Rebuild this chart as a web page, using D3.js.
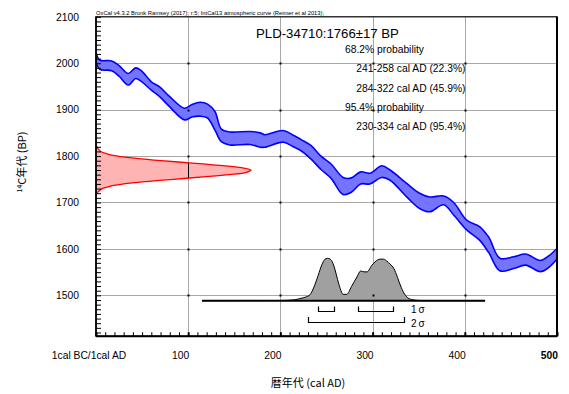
<!DOCTYPE html>
<html><head><meta charset="utf-8">
<script src="https://cdn.jsdelivr.net/npm/d3@7"></script>
<style>
html,body{margin:0;padding:0;background:#fff;}
svg{display:block;font-family:"Liberation Sans",Arial,"Noto Sans CJK JP",sans-serif;}
</style></head><body>
<svg id="chart" width="569" height="394"></svg>
<script>
// ---- data ----
const calYears = [0,4,17,25,35,43,49,60,69,80,96,104,113,121,129,136,145,167,178,183,203,214,222,233,244,255,268,277,287,297,310,319,337,351,362,377,388,402,416,426,438,453,466,482,491,500];
const curveUpper = [2024,2007,2005,1995,1978,1990,1984,1960,1949,1928,1903,1911,1916,1912,1896,1858,1852,1853,1850,1846,1855,1845,1836,1823,1800,1783,1754,1753,1766,1763,1779,1770,1741,1720,1712,1714,1700,1662,1648,1625,1580,1583,1589,1575,1585,1601];
const curveLower = [2005,1987,1984,1972,1953,1967,1961,1942,1928,1906,1878,1884,1886,1882,1856,1831,1824,1825,1819,1819,1830,1820,1812,1794,1771,1752,1717,1722,1740,1740,1754,1748,1712,1687,1680,1695,1673,1641,1619,1592,1553,1558,1565,1551,1560,1578];

const measBP = [1825,1820,1815,1810,1805,1800,1795,1790,1785,1780,1775,1770,1765,1760,1755,1750,1745,1740,1735,1730,1725,1720,1715];
const measProb = [0,0.005,0.015,0.03,0.07,0.14,0.26,0.42,0.62,0.80,0.94,1.0,0.97,0.86,0.69,0.50,0.32,0.18,0.09,0.04,0.02,0.005,0];

const postYears = [115,200,215,221,228,232,236,241,245,248,251,254,257,259,262,265,268,272,277,283,287,291,294,299,304,308,312,315,319,323,327,330,334,337,342,348,360,422];
const postProb  = [0,0.005,0.02,0.05,0.09,0.14,0.3,0.6,0.85,0.97,1.0,0.98,0.88,0.75,0.5,0.28,0.15,0.15,0.33,0.56,0.7,0.68,0.68,0.83,0.94,0.98,0.98,0.94,0.86,0.76,0.55,0.37,0.18,0.09,0.03,0.01,0,0];

const sigma1Ranges = [[241,258],[284,322]];
const sigma2Ranges = [[230,334]];

const xTickLabels = ["1cal BC/1cal AD","100","200","300","400","500"];
const xTickValues = [0,100,200,300,400,500];
const yTickValues = [1500,1600,1700,1800,1900,2000,2100];

const headerText = "OxCal v4.3.2 Bronk Ramsey (2017); r:5; IntCal13 atmospheric curve (Reimer et al 2013);";
const titleText = "PLD-34710:1766\u00B117 BP";
const probLines = [
  {t:"68.2% probability", kind:"head"},
  {t:"241-258 cal AD (22.3%)", kind:"range"},
  {t:"284-322 cal AD (45.9%)", kind:"range"},
  {t:"95.4% probability", kind:"head"},
  {t:"230-334 cal AD (95.4%)", kind:"range"}
];

// ---- layout ----
const svg = d3.select("#chart");
const L = 96, R = 557, T = 16.8, B = 336.2;
const x = d3.scaleLinear().domain([0,500]).range([L,R]);
const y = d3.scaleLinear().domain([1412,2100]).range([B,T]);

svg.append("clipPath").attr("id","plotclip").append("rect")
  .attr("x",L).attr("y",T).attr("width",R-L).attr("height",B-T);

// gridlines
const grid = svg.append("g").attr("stroke","#a8a8a8").attr("stroke-width",1);
[100,200,300,400].forEach(v=>grid.append("line").attr("x1",Math.round(x(v))+0.5).attr("x2",Math.round(x(v))+0.5).attr("y1",T).attr("y2",B));
[1500,1600,1700,1800,1900,2000].forEach(v=>grid.append("line").attr("y1",Math.round(y(v))+0.5).attr("y2",Math.round(y(v))+0.5).attr("x1",L).attr("x2",R));

// measurement (red) distribution
const measData = measBP.map((b,i)=>({bp:b,p:measProb[i]}));
const xr = d3.scaleLinear().domain([0,1]).range([L,251]);
const redArea = d3.area().y(d=>y(d.bp)).x0(L).x1(d=>xr(d.p)).curve(d3.curveCatmullRom);
svg.append("path").datum(measData).attr("d",redArea).attr("fill","#ffb4b4");
svg.append("clipPath").attr("id","redclip").append("path").datum(measData).attr("d",redArea);
svg.append("line").attr("clip-path","url(#redclip)")
  .attr("x1",Math.round(x(100))+0.5).attr("x2",Math.round(x(100))+0.5).attr("y1",T).attr("y2",B)
  .attr("stroke","#000").attr("stroke-width",1);
const redLine = d3.line().y(d=>y(d.bp)).x(d=>xr(d.p)).curve(d3.curveCatmullRom);
svg.append("path").datum(measData).attr("d",redLine).attr("fill","none").attr("stroke","#ff0000").attr("stroke-width",1.3);

// calibration curve band
const curveData = calYears.map((c,i)=>({c:c,u:curveUpper[i],l:curveLower[i]}));
const band = d3.area().x(d=>x(d.c)).y0(d=>y(d.l)).y1(d=>y(d.u)).curve(d3.curveCatmullRom);
const g2 = svg.append("g").attr("clip-path","url(#plotclip)");
g2.append("path").datum(curveData).attr("d",band).attr("fill","#7474ff");
g2.append("path").datum(curveData).attr("d",d3.line().x(d=>x(d.c)).y(d=>y(d.u)).curve(d3.curveCatmullRom))
  .attr("fill","none").attr("stroke","#0000ff").attr("stroke-width",1.6);
g2.append("path").datum(curveData).attr("d",d3.line().x(d=>x(d.c)).y(d=>y(d.l)).curve(d3.curveCatmullRom))
  .attr("fill","none").attr("stroke","#0000ff").attr("stroke-width",1.6);

// posterior (gray) distribution
const base = 300.7;
const hy = d3.scaleLinear().domain([0,1]).range([base,258.3]);
const postData = postYears.map((c,i)=>({c:c,p:postProb[i]}));
svg.append("path").datum(postData)
  .attr("d",d3.area().x(d=>x(d.c)).y0(base).y1(d=>hy(d.p)).curve(d3.curveMonotoneX))
  .attr("fill","#a0a0a0");
svg.append("path").datum(postData)
  .attr("d",d3.line().x(d=>x(d.c)).y(d=>hy(d.p)).curve(d3.curveMonotoneX))
  .attr("fill","none").attr("stroke","#000").attr("stroke-width",1);
svg.append("line").attr("x1",x(postYears[0])).attr("x2",x(postYears[postYears.length-1]))
  .attr("y1",base).attr("y2",base).attr("stroke","#000").attr("stroke-width",2);

// sigma brackets
function bracket(r, yTop, yBot){
  const a = Math.round(x(r[0]))+0.5, b = Math.round(x(r[1]))+0.5;
  return `M${a},${yTop}V${yBot}H${b}V${yTop}`;
}
sigma1Ranges.forEach(r=>svg.append("path").attr("d",bracket(r,306.5,311.5)).attr("fill","none").attr("stroke","#000").attr("stroke-width",1.2));
sigma2Ranges.forEach(r=>svg.append("path").attr("d",bracket(r,317,322.5)).attr("fill","none").attr("stroke","#000").attr("stroke-width",1.2));
svg.append("text").attr("x",411).attr("y",313).attr("font-size",10).text("1\u2009\u03C3");
svg.append("text").attr("x",411).attr("y",327).attr("font-size",10).text("2\u2009\u03C3");

// intersection dots
[100,200,300,400].forEach(cx=>[1500,1600,1700,1800,1900,2000].forEach(by=>{
  svg.append("rect").attr("x",Math.round(x(cx))-0.5).attr("y",Math.round(y(by))-0.5).attr("width",2).attr("height",2).attr("fill","#000");
}));

// axes
const minorY = d3.range(1420,2101,10);
svg.append("g").attr("transform",`translate(${L},0)`)
  .call(d3.axisLeft(y).tickValues(minorY).tickSize(-5).tickFormat(""))
  .call(g=>{g.select(".domain").remove(); g.selectAll("line").attr("stroke","#000").attr("stroke-width",1);});
const minorX = d3.range(0,501,10);
svg.append("g").attr("transform",`translate(0,${B})`)
  .call(d3.axisBottom(x).tickValues(minorX).tickSize(-4).tickFormat(""))
  .call(g=>{g.select(".domain").remove(); g.selectAll("line").attr("stroke","#000").attr("stroke-width",d=>d%100===0?2:1);});

// frame
svg.append("rect").attr("x",L).attr("y",T).attr("width",R-L).attr("height",B-T)
  .attr("fill","none").attr("stroke","#000").attr("stroke-width",1.2);
svg.append("line").attr("x1",L).attr("x2",L).attr("y1",T).attr("y2",B).attr("stroke","#000").attr("stroke-width",1.6);
svg.append("line").attr("x1",L).attr("x2",R).attr("y1",B).attr("y2",B).attr("stroke","#000").attr("stroke-width",2);
svg.append("line").attr("x1",R).attr("x2",R).attr("y1",T).attr("y2",B).attr("stroke","#000").attr("stroke-width",2);

// y tick labels
yTickValues.forEach(v=>svg.append("text").attr("x",79).attr("y",y(v)+3.7).attr("text-anchor","end")
  .attr("font-size",10.3).attr("fill","#000").text(v));
// x tick labels
xTickValues.forEach((v,i)=>{
  const t = svg.append("text").attr("y",358.5).attr("font-size",10.3).attr("fill","#000").text(xTickLabels[i]);
  if(i===0){ t.attr("x",89).attr("text-anchor","middle"); }
  else { t.attr("x",x(v)+1).attr("text-anchor","end"); }
  if(i===xTickValues.length-1) t.attr("font-weight","bold");
});

// axis titles
svg.append("text").attr("x",308).attr("y",387).attr("text-anchor","middle").attr("font-size",11)
  .attr("font-family","'Noto Sans CJK JP',sans-serif").text("暦年代 (cal AD)");
const yt = svg.append("text").attr("transform","translate(26,162) rotate(-90)").attr("text-anchor","middle")
  .attr("font-size",11).attr("font-family","'Noto Sans CJK JP',sans-serif");
yt.append("tspan").attr("font-size",7).attr("dy",-4).text("14");
yt.append("tspan").attr("dy",4).text("C年代 (BP)");

// header & legend texts
svg.append("text").attr("x",L).attr("y",14.8).attr("font-size",5.8).attr("fill","#000").text(headerText);
svg.append("text").attr("x",256).attr("y",37.5).attr("font-size",13.2).attr("fill","#000").text(titleText);
probLines.forEach((d,i)=>{
  const t = svg.append("text").attr("y",53.2+i*19.2).attr("font-size",10.3).attr("fill","#000").text(d.t);
  if(d.kind==="head") t.attr("x",345).attr("text-anchor","start");
  else t.attr("x",465.5).attr("text-anchor","end");
});
</script>
</body></html>
